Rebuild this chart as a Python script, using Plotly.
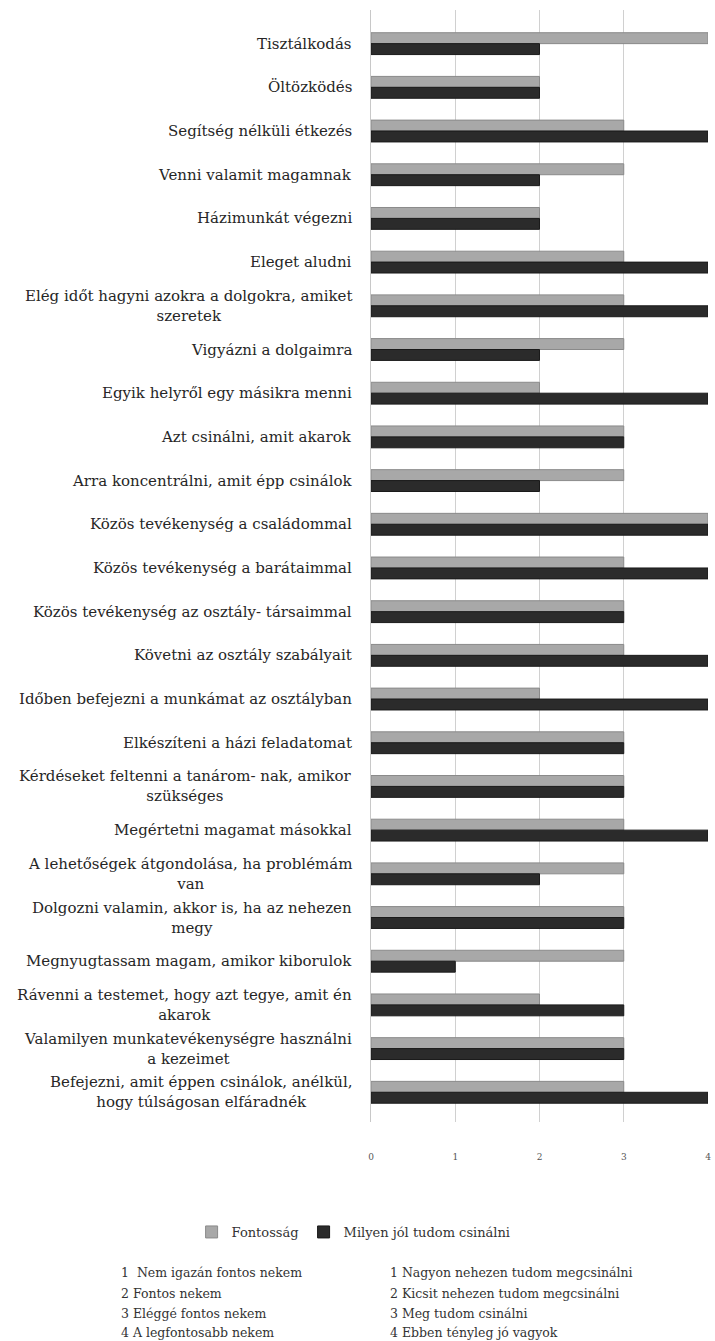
import plotly.graph_objects as go

categories = [
    "Tisztálkodás",
    "Öltözködés",
    "Segítség nélküli étkezés",
    "Venni valamit magamnak",
    "Házimunkát végezni",
    "Eleget aludni",
    "Elég időt hagyni azokra a dolgokra, amiket<br>szeretek",
    "Vigyázni a dolgaimra",
    "Egyik helyről egy másikra menni",
    "Azt csinálni, amit akarok",
    "Arra koncentrálni, amit épp csinálok",
    "Közös tevékenység a családommal",
    "Közös tevékenység a barátaimmal",
    "Közös tevékenység az osztály- társaimmal",
    "Követni az osztály szabályait",
    "Időben befejezni a munkámat az osztályban",
    "Elkészíteni a házi feladatomat",
    "Kérdéseket feltenni a tanárom- nak, amikor<br>szükséges",
    "Megértetni magamat másokkal",
    "A lehetőségek átgondolása, ha problémám<br>van",
    "Dolgozni valamin, akkor is, ha az nehezen<br>megy",
    "Megnyugtassam magam, amikor kiborulok",
    "Rávenni a testemet, hogy azt tegye, amit én<br>akarok",
    "Valamilyen munkatevékenységre használni<br>a kezeimet",
    "Befejezni, amit éppen csinálok, anélkül,<br>hogy túlságosan elfáradnék",
]
fontossag = [4, 2, 3, 3, 2, 3, 3, 3, 2, 3, 3, 4, 3, 3, 3, 2, 3, 3, 3, 3, 3, 3, 2, 3, 3]
milyen_jol = [2, 2, 4, 2, 2, 4, 4, 2, 4, 3, 2, 4, 4, 3, 4, 4, 3, 3, 4, 2, 3, 1, 3, 3, 4]
series_names = ["Fontosság", "Milyen jól tudom csinálni"]
x_ticks = [0, 1, 2, 3, 4]
note_left = ["1  Nem igazán fontos nekem", "2 Fontos nekem", "3 Eléggé fontos nekem", "4 A legfontosabb nekem"]
note_right = ["1 Nagyon nehezen tudom megcsinálni", "2 Kicsit nehezen tudom megcsinálni",
              "3 Meg tudom csinálni", "4 Ebben tényleg jó vagyok"]

FONT = "DejaVu Serif, Liberation Serif, serif"
W, H = 715, 1341
ML, MR, MT, MB = 371, 4, 10, 219
PW = W - ML - MR
PH = H - MT - MB

def xpaper(xpx):
    return (xpx - ML) / PW

def ypaper(ypx):
    return 1 - (ypx - MT) / PH

fig = go.Figure()
fig.add_trace(go.Bar(
    y=categories, x=fontossag, orientation="h", name=series_names[0],
    marker=dict(color="#a8a8a8", line=dict(color="#8a8a8a", width=1)),
))
fig.add_trace(go.Bar(
    y=categories, x=milyen_jol, orientation="h", name=series_names[1],
    marker=dict(color="#2b2b2b", line=dict(color="#1a1a1a", width=1)),
))

annotations = []
for c in categories:
    annotations.append(dict(
        x=0, xref="paper", y=c, yref="y", text=c, showarrow=False,
        xanchor="right", yanchor="middle", align="center", xshift=-17,
        font=dict(family=FONT, size=15, color="#262626"),
    ))

line_y = [1272, 1293, 1313, 1332]
for i, t in enumerate(note_left):
    annotations.append(dict(
        x=xpaper(117), xref="paper", y=ypaper(line_y[i]), yref="paper",
        text=t, showarrow=False, xanchor="left", yanchor="middle",
        font=dict(family=FONT, size=12.5, color="#333333"),
    ))
for i, t in enumerate(note_right):
    annotations.append(dict(
        x=xpaper(388), xref="paper", y=ypaper(line_y[i]), yref="paper",
        text=t, showarrow=False, xanchor="left", yanchor="middle",
        font=dict(family=FONT, size=12.5, color="#333333"),
    ))

fig.update_layout(
    width=W, height=H,
    margin=dict(l=ML, r=MR, t=MT, b=MB),
    paper_bgcolor="white", plot_bgcolor="white",
    barmode="group", bargap=0.5, bargroupgap=0,
    showlegend=True,
    legend=dict(
        orientation="h", x=xpaper(190), xanchor="left",
        y=ypaper(1232), yanchor="middle",
        font=dict(family=FONT, size=13, color="#333333"),
        itemwidth=30, tracegroupgap=0,
    ),
    xaxis=dict(
        range=[0, 4], tickvals=x_ticks, showgrid=True, gridcolor="#d0d0d0", gridwidth=1,
        zeroline=False, showline=False,
        tickfont=dict(family=FONT, size=9, color="#555555"),
        ticklabelstandoff=28, fixedrange=True,
    ),
    yaxis=dict(
        categoryorder="array", categoryarray=categories,
        range=[24.68, -0.77], showticklabels=False, showgrid=False,
        showline=True, linecolor="#c8c8c8", linewidth=1, ticks="",
    ),
    annotations=annotations,
)

fig.write_html("out.html")
